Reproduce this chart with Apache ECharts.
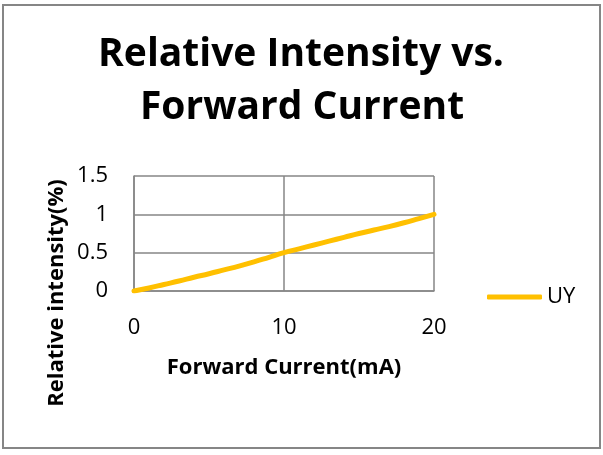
<!DOCTYPE html>
<html><head><meta charset="utf-8">
<script src="https://cdn.jsdelivr.net/npm/echarts@6/dist/echarts.min.js"></script>
<style>html,body{margin:0;padding:0;background:#fff}#c{width:603px;height:455px}</style>
</head><body><div id="c"></div>
<script>
const titleLines = ["Relative Intensity vs.", "Forward Current"];
const seriesName = "UY";
const xName = "Forward Current(mA)";
const yName = "Relative intensity(%)";
const currents = [0,1,2,3,4,5,6,7,8,9,10,11,12,13,14,15,16,17,18,19,20];
const intensity = [0,0.04,0.085,0.13,0.18,0.225,0.275,0.325,0.38,0.44,0.5,0.55,0.6,0.65,0.7,0.75,0.795,0.84,0.89,0.945,1.0];

const chart = echarts.init(document.getElementById('c'));
const F = '"Open Sans", sans-serif';
chart.setOption({
  animation: false,
  backgroundColor: '#fff',
  grid: {left: 134, right: 169, top: 176, bottom: 164},
  graphic: [
    {type: 'rect', shape: {x: 3, y: 5, width: 597, height: 443}, style: {fill: 'none', stroke: '#868686', lineWidth: 2}},
    {type: 'text', x: 301, y: 55, style: {text: titleLines[0], font: 'bold 39px ' + F, fill: '#000', align: 'center', verticalAlign: 'middle'}},
    {type: 'text', x: 302, y: 108, style: {text: titleLines[1], font: 'bold 39px ' + F, fill: '#000', align: 'center', verticalAlign: 'middle'}},
    {type: 'text', x: 57, y: 293, rotation: Math.PI / 2, style: {text: yName, font: 'bold 22px ' + F, fill: '#000', align: 'center', verticalAlign: 'middle'}}
  ],
  legend: {
    show: true, left: 487, top: 286, padding: 0, icon: 'roundRect', itemWidth: 55, itemHeight: 5,
    textStyle: {fontFamily: F, fontSize: 22, color: '#000'},
    data: [seriesName]
  },
  xAxis: {
    type: 'value', min: 0, max: 20, interval: 10,
    name: xName, nameLocation: 'middle', nameGap: 66,
    nameTextStyle: {fontFamily: F, fontWeight: 'bold', fontSize: 22, color: '#000'},
    axisLine: {show: true, lineStyle: {color: '#868686', width: 1.5}},
    axisTick: {show: false},
    axisLabel: {margin: 26, fontFamily: F, fontSize: 22, color: '#000'},
    splitLine: {show: true, lineStyle: {color: '#868686', width: 1.5}}
  },
  yAxis: {
    type: 'value', min: 0, max: 1.5, interval: 0.5,
    axisLine: {show: true, lineStyle: {color: '#868686', width: 1.5}},
    axisTick: {show: false},
    axisLabel: {margin: 26, fontFamily: F, fontSize: 22, color: '#000', padding: [5, 0, 0, 0]},
    splitLine: {show: true, lineStyle: {color: '#868686', width: 1.5}}
  },
  series: [{
    name: seriesName, type: 'line', smooth: true, showSymbol: false, symbol: 'none',
    data: currents.map((c, i) => [c, intensity[i]]),
    lineStyle: {color: '#FFC000', width: 5, cap: 'round'},
    itemStyle: {color: '#FFC000'}
  }]
});
</script></body></html>
